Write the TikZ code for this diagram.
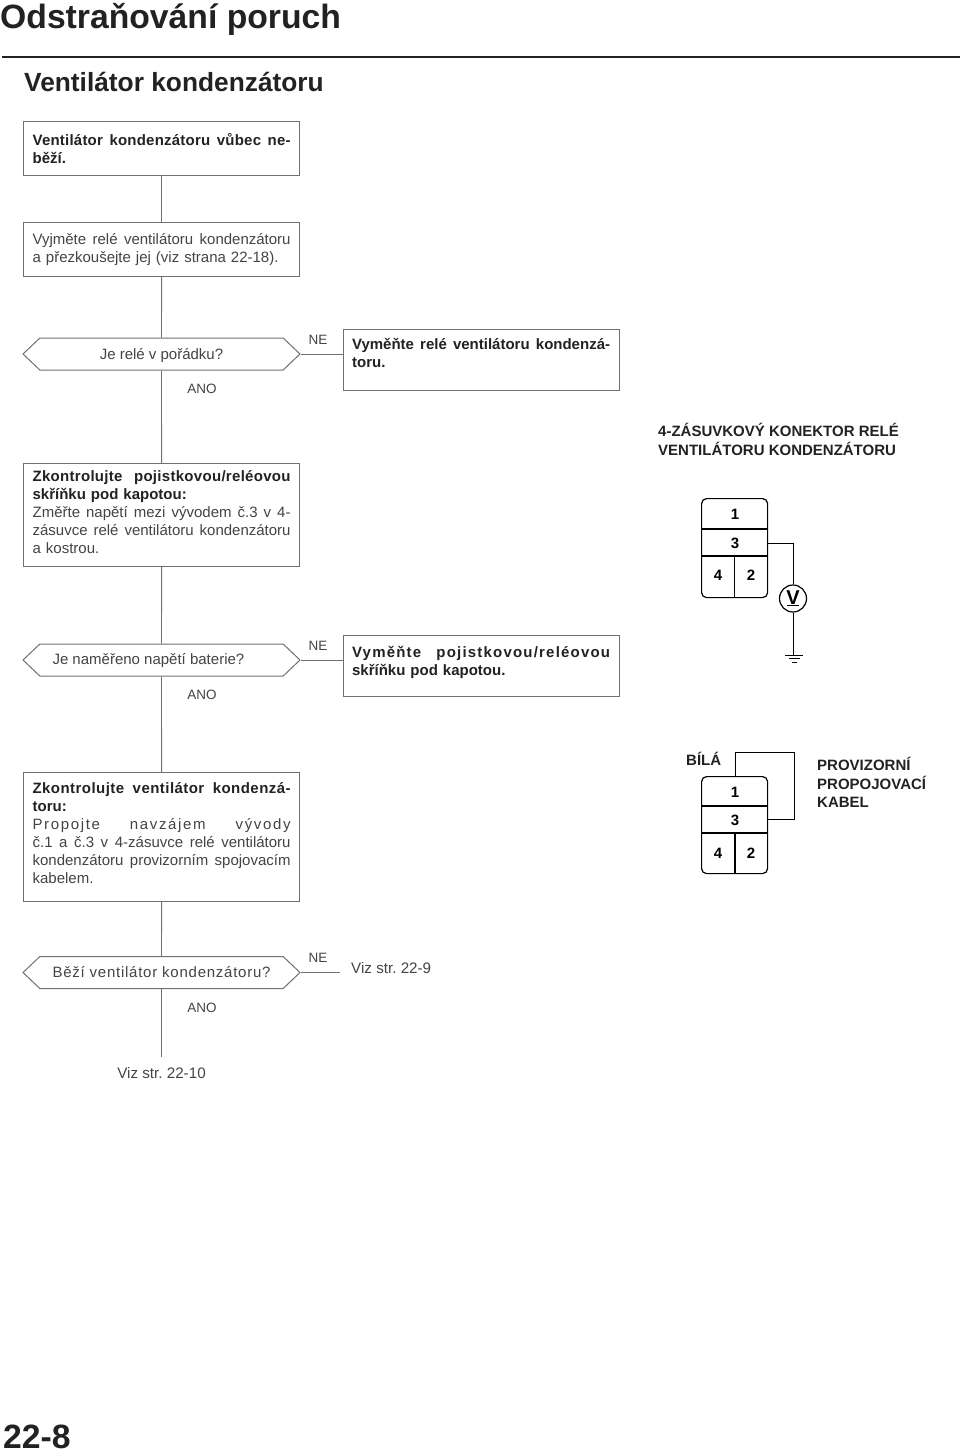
\documentclass[tikz,border=0pt]{standalone}
\usepackage{fontspec}
\setmainfont{Liberation Sans}
\usetikzlibrary{shapes.symbols}
\definecolor{ink}{HTML}{444444}
\definecolor{rulec}{HTML}{707070}
\definecolor{dk}{HTML}{222222}
\newcommand{\jl}[2][0]{\makebox[258pt][s]{\spaceskip=0pt\xspaceskip=0pt\addfontfeature{LetterSpace=#1}#2}}
\newcommand{\fs}[2]{\fontsize{#1}{#2}\selectfont}
\newcommand{\bd}{\bfseries\color{dk}}
\newcommand{\up}[1]{\rule[-#1pt]{0pt}{0pt}}
\newcommand{\drop}[2]{\raisebox{-#1pt}[0pt][0pt]{#2}}
\tikzset{
 x=1pt,y=-1pt,
 every node/.style={text=ink,font=\fs{15}{18}\frenchspacing},
 flow/.style={draw=rulec,line width=0.9pt},
 boxnode/.style={draw=rulec,line width=1.2pt,anchor=north west,minimum width=276pt,inner xsep=9pt,inner ysep=0pt,text width=258pt,align=left},
 ask/.style={draw=rulec,line width=1pt,shape=signal,signal to=east and west,signal pointer angle=87,minimum width=277pt,minimum height=32pt,inner sep=0pt},
 tag/.style={font=\fs{13.5}{18},text=ink,inner sep=0pt},
 bold/.style={font=\fs{15}{18.5}\bfseries,text=dk,inner sep=0pt,anchor=west,align=left},
 wire/.style={draw=black,line width=1pt},
 conn/.style={draw=black,line width=1.2pt,rounded corners=5pt},
 pin/.style={font=\fs{15}{15}\bfseries,text=black,inner sep=0pt},
 bigt/.style={anchor=base west,inner sep=0pt,text=dk},
}
\begin{document}
\begin{tikzpicture}
\useasboundingbox (0,0) rectangle (960,1452);
\fill[white] (0,0) rectangle (960,1452);
\node[bigt,font=\fs{33.7}{40}\bfseries] (title) at (0,28) {Odstraňování poruch};
\coordinate (rl) at (2,56.5); \coordinate (rr) at (960,56.5);
\draw[line width=2pt,draw=dk] (rl) -- (rr);
\node[bigt,font=\fs{26.3}{30}\bfseries] (sub) at (24,91.5) {Ventilátor kondenzátoru};

\node[boxnode,minimum height=54pt] (b1) at (23,121) {{\bd\jl[1.5]{Ventilátor kondenzátoru vůbec ne-}\\běží.}};
\node[boxnode,minimum height=54pt] (b2) at (23,222) {\jl{Vyjměte relé ventilátoru kondenzátoru}\\a přezkoušejte jej (viz strana 22-18).};
\node[ask] (d1) at (161.5,354) {\drop{5}{Je relé v pořádku?}};
\node[boxnode,minimum height=61pt] (b3) at (342.5,329) {{\bd\jl{Vyměňte relé ventilátoru kondenzá-}\\toru.\up{14}}};
\node[boxnode,minimum height=103pt] (b4) at (23,463) {{\bd\jl[2]{Zkontrolujte pojistkovou/reléovou}\\skříňku pod kapotou:}\\\jl{Změřte napětí mezi vývodem č.3 v 4-}\\\jl{zásuvce relé ventilátoru kondenzátoru}\\a kostrou.\up{6}};
\node[ask] (d2) at (161.5,660) {\drop{4.5}{\makebox[218pt][l]{Je naměřeno napětí baterie?}}};
\node[boxnode,minimum height=61pt] (b5) at (342.5,635) {{\bd\jl[8]{Vyměňte pojistkovou/reléovou}\\skříňku pod kapotou.\up{11}}};
\node[boxnode,minimum height=129pt] (b6) at (23,772) {{\bd\jl[3]{Zkontrolujte ventilátor kondenzá-}\\toru:}\\\jl[11]{Propojte navzájem vývody}\\\jl{č.1 a č.3 v 4-zásuvce relé ventilátoru}\\\jl{kondenzátoru provizorním spojovacím}\\kabelem.\up{8}};
\node[ask] (d3) at (161.5,972.5) {\drop{4.5}{\makebox[218pt][s]{\addfontfeature{LetterSpace=5}Běží ventilátor kondenzátoru?}}};
\node[inner sep=0pt,anchor=west,font=\fs{15.2}{18}\frenchspacing] (v9) at (351,968) {Viz str. 22-9};
\node[inner sep=0pt,font=\fs{15.2}{18}\frenchspacing] (v10) at (161.5,1073) {Viz str. 22-10};

\coordinate (e1) at (161.5,1057);
\draw[flow] (b1) -- (b2);
\draw[flow] (b2) -- (d1);
\draw[flow] (d1) -- (b4);
\draw[flow] (b4) -- (d2);
\draw[flow] (d2) -- (b6);
\draw[flow] (b6) -- (d3);
\draw[flow] (d3.south) -- (e1);
\draw[flow] (d1.east) -- (d1.east -| b3.west);
\draw[flow] (d2.east) -- (d2.east -| b5.west);
\coordinate (e2) at (340,972.5);
\draw[flow] (d3.east) -- (e2);

\node[tag] (ne1) at (318,340) {NE};
\node[tag] (ne2) at (318,646) {NE};
\node[tag] (ne3) at (318,958) {NE};
\node[tag] (a1) at (202,389) {ANO};
\node[tag] (a2) at (202,695) {ANO};
\node[tag] (a3) at (202,1008) {ANO};

\node[bold] (l1) at (658,439.5) {4-ZÁSUVKOVÝ KONEKTOR RELÉ\\VENTILÁTORU KONDENZÁTORU};
\node[bold,anchor=west] (l2) at (686,759) {BÍLÁ};
\node[bold,anchor=north west] (l3) at (817,757) {PROVIZORNÍ\\PROPOJOVACÍ\\KABEL};

% connector A
\node[conn,minimum width=66pt,minimum height=99pt,inner sep=0pt,anchor=north west] (ca) at (701,498) {};
\coordinate (ca1l) at (701,529); \coordinate (ca1r) at (767,529);
\coordinate (ca2l) at (701,556); \coordinate (ca2r) at (767,556);
\coordinate (cam) at (734.5,556); \coordinate (cab) at (734.5,597);
\draw[conn] (ca1l) -- (ca1r); \draw[conn] (ca2l) -- (ca2r); \draw[conn] (cam) -- (cab);
\node[pin] (pa1) at (735,514) {1};
\node[pin] (pa3) at (735,543) {3};
\node[pin] (pa4) at (718,575) {4};
\node[pin] (pa2) at (751,575) {2};
\node[draw=black,line width=1.2pt,circle,minimum size=27pt,inner sep=0pt,text=black,font=\fs{20}{20}\bfseries] (vm) at (793,598.5) {\raisebox{1.5pt}{V}};
\coordinate (vl) at (787,605.5); \coordinate (vr) at (799,605.5);
\draw[wire] (vl) -- (vr);
\coordinate (w3) at (767,543); \coordinate (gnd) at (794,655);
\draw[wire] (w3) -| (vm.north);
\draw[wire] (vm.south) -- (vm.south |- gnd);
\coordinate (g1l) at (785,655); \coordinate (g1r) at (803,655);
\coordinate (g2l) at (789,658.5); \coordinate (g2r) at (800,658.5);
\coordinate (g3l) at (792,662); \coordinate (g3r) at (797,662);
\draw[wire] (g1l) -- (g1r); \draw[wire] (g2l) -- (g2r); \draw[wire] (g3l) -- (g3r);

% connector B
\node[conn,minimum width=66pt,minimum height=97pt,inner sep=0pt,anchor=north west] (cb) at (701,776) {};
\coordinate (cb1l) at (701,806); \coordinate (cb1r) at (767,806);
\coordinate (cb2l) at (701,833); \coordinate (cb2r) at (767,833);
\coordinate (cbm) at (735,833); \coordinate (cbb) at (735,873);
\draw[conn] (cb1l) -- (cb1r); \draw[conn] (cb2l) -- (cb2r); \draw[conn] (cbm) -- (cbb);
\node[pin] (pb1) at (735,792) {1};
\node[pin] (pb3) at (735,820) {3};
\node[pin] (pb4) at (718,853) {4};
\node[pin] (pb2) at (751,853) {2};
\coordinate (j1) at (735,776); \coordinate (j2) at (735,752); \coordinate (j3) at (794,752); \coordinate (j4) at (794,819); \coordinate (j5) at (767,819);
\draw[wire] (j1) -- (j2) -- (j3) -- (j4) -- (j5);

\node[bigt,font=\fs{33.7}{40}\bfseries] (pg) at (3,1448.5) {22-8};
\end{tikzpicture}
\end{document}
